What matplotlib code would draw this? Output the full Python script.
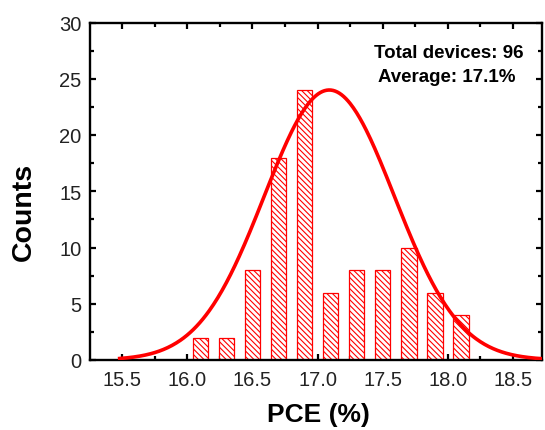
import numpy as np
import matplotlib.pyplot as plt
from matplotlib.ticker import MultipleLocator

plt.rcParams['font.family'] = ['Liberation Sans', 'DejaVu Sans']
plt.rcParams['hatch.color'] = 'red'
plt.rcParams['hatch.linewidth'] = 0.8

# histogram data
pce = [16.1, 16.3, 16.5, 16.7, 16.9, 17.1, 17.3, 17.5, 17.7, 17.9, 18.1]
counts = [2, 2, 8, 18, 24, 6, 8, 8, 10, 6, 4]

# gaussian fit parameters
mu = 17.09
sigma = 0.5
amp = 24

W, H = 545, 431
fig = plt.figure(figsize=(W / 100, H / 100), dpi=100)
ax = fig.add_axes([90 / W, 1 - 361 / H, 451.5 / W, 337.5 / H])

ax.bar(pce, counts, width=0.12, facecolor='white', edgecolor='red',
       linewidth=0.9, hatch='\\' * 6, zorder=2)

xf = np.linspace(15.48, 18.75, 400)
yf = amp * np.exp(-(xf - mu) ** 2 / (2 * sigma ** 2))
ax.plot(xf, yf, color='red', linewidth=2.6, zorder=3)

ax.set_xlim(15.252, 18.72)
ax.set_ylim(0, 30)
ax.xaxis.set_major_locator(MultipleLocator(0.5))
ax.xaxis.set_minor_locator(MultipleLocator(0.25))
ax.yaxis.set_major_locator(MultipleLocator(5))
ax.yaxis.set_minor_locator(MultipleLocator(2.5))
ax.xaxis.set_major_formatter(plt.FormatStrFormatter('%.1f'))

ax.tick_params(which='both', direction='in', top=True, right=True, width=1.6)
ax.tick_params(which='major', length=4.5, labelsize=14.5, labelcolor='#222222')
ax.tick_params(axis='x', which='major', pad=7)
ax.tick_params(axis='y', which='major', pad=6)
ax.tick_params(which='minor', length=3)
for s in ax.spines.values():
    s.set_linewidth(1.7)

fig.text(318 / W, 1 - 415 / H, 'PCE (%)', fontsize=19, fontweight='bold',
         ha='center', va='center')
fig.text(24 / W, 1 - 212 / H, 'Counts', fontsize=20.5, fontweight='bold',
         ha='center', va='center', rotation=90)

fig.text(449 / W, 1 - 53 / H, 'Total devices: 96', fontsize=13.5,
         fontweight='bold', ha='center', va='center')
fig.text(447 / W, 1 - 77.5 / H, 'Average: 17.1%', fontsize=13.5,
         fontweight='bold', ha='center', va='center')

fig.savefig('out.png', dpi=100)
